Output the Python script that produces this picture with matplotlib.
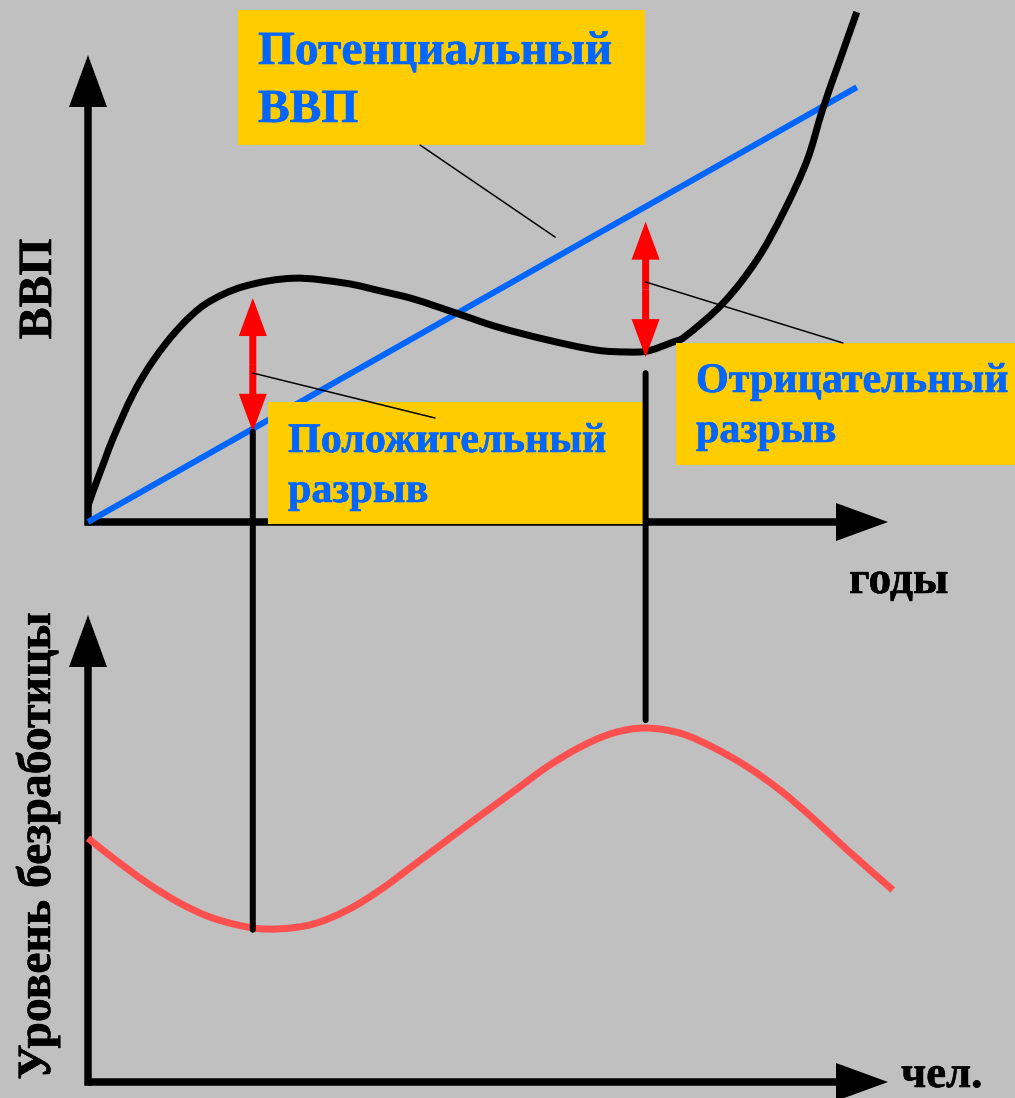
import numpy as np
import matplotlib
matplotlib.use("Agg")
import matplotlib.pyplot as plt
from matplotlib import font_manager as fm
from matplotlib import patheffects as pe
from matplotlib.patches import FancyArrowPatch, Rectangle, ConnectionPatch, ArrowStyle, PathPatch
from matplotlib.path import Path
from matplotlib.transforms import Affine2D

# ---------------------------------------------------------------- data
# actual GDP over the years (top panel)
years_actual = [0.00, 0.07, 0.21, 0.31, 0.57, 0.82, 1.15, 1.48, 1.94, 2.57,
                3.23, 3.65, 4.06, 4.59, 5.11, 5.74, 6.36, 6.74, 6.99, 7.31,
                7.44, 7.94, 8.36, 8.69, 8.99, 9.18, 9.40, 9.61]
gdp_actual = [3.5, 6.9, 13.3, 17.8, 27.6, 34.7, 41.8, 46.8, 50.4, 52.2,
              51.1, 49.5, 47.8, 44.8, 41.8, 39.0, 36.8, 36.4, 36.6, 38.5,
              39.4, 46.9, 56.1, 66.2, 77.5, 88.2, 99.0, 109.2]

# potential GDP (straight trend)
years_potential = [0.0, 9.61]
gdp_potential = [0.0, 93.1]

# unemployment rate (bottom panel)
years_unemp = [0.00, 0.31, 0.74, 1.15, 1.56, 2.06, 2.40, 2.81, 3.24, 3.65,
               4.06, 4.49, 4.90, 5.31, 5.74, 6.15, 6.56, 6.96, 7.40, 7.81,
               8.24, 8.65, 9.06, 9.49, 10.06]
unemployment = [52.2, 48.0, 42.6, 38.3, 35.1, 33.0, 32.8, 33.8, 36.8, 41.1,
                46.3, 51.8, 57.0, 62.1, 67.5, 71.7, 74.7, 75.8, 74.7, 71.7,
                67.5, 62.5, 56.5, 49.7, 41.1]

# years where the output gaps are marked: positive, negative
gap_years = [2.06, 6.97]

# labels
label_potential = "Потенциальный\nВВП"
label_positive = "Положительный\nразрыв"
label_negative = "Отрицательный\nразрыв"
label_gdp = "ВВП"
label_unemp = "Уровень безработицы"
label_years = "годы"
label_people = "чел."

# ---------------------------------------------------------------- style
BG = "#C0C0C0"
YELLOW = "#FFCC00"
BLUE = "#0066FF"
RED_ARROW = "#FF0000"
RED_LINE = "#FF5050"

FONT = fm.FontProperties(family="Liberation Serif", weight="bold")
HEAVY = 0.4  # slight extra stroke (points) on the bold face


def heavy(color):
    return [pe.withStroke(linewidth=HEAVY, foreground=color)]


W, H, DPI = 1015, 1098, 100
PT = 72.0 / DPI  # points per pixel

fig = plt.figure(figsize=(W / DPI, H / DPI), dpi=DPI, facecolor=BG)
# pixel coordinates measured from the top-left corner
px = Affine2D().scale(1.0 / W, -1.0 / H).translate(0, 1) + fig.transFigure

# panel geometry (pixels)
X0, X1 = 88, 888
TOP_BASE, TOP_TIP = 522, 55
BOT_BASE, BOT_TIP = 1082, 615
SX = (X1 - X0) / 10.0              # pixels per year
SY = (TOP_BASE - TOP_TIP) / 100.0  # pixels per value unit

ax1 = fig.add_axes([X0 / W, 1 - TOP_BASE / H, (X1 - X0) / W, (TOP_BASE - TOP_TIP) / H])
ax2 = fig.add_axes([X0 / W, 1 - BOT_BASE / H, (X1 - X0) / W, (BOT_BASE - BOT_TIP) / H])
for ax in (ax1, ax2):
    ax.set_xlim(0, 10)
    ax.set_ylim(0, 100)
    ax.axis("off")
    ax.patch.set_alpha(0)
ax1.set_zorder(1)
ax2.set_zorder(2)


def simple_arrow(ax, start, end, transform, head_len, head_w, tail_w, color, z):
    style = ArrowStyle.Simple(head_length=head_len * PT, head_width=head_w * PT,
                              tail_width=tail_w * PT)
    arr = FancyArrowPatch(start, end, arrowstyle=style, mutation_scale=1,
                          transform=transform, color=color, lw=0,
                          shrinkA=0, shrinkB=0, zorder=z, clip_on=False)
    ax.add_patch(arr)


def smooth_curve(ax, xs, ys, color, lw, z):
    """Smooth cubic Bezier curve through the points (chord-length Hermite)."""
    scale = np.array([SX, SY])
    Q = np.column_stack([xs, ys]).astype(float) * scale
    d = np.hypot(*np.diff(Q, axis=0).T)
    n = len(Q)
    m = np.zeros_like(Q)
    m[0] = (Q[1] - Q[0]) / d[0]
    m[-1] = (Q[-1] - Q[-2]) / d[-1]
    for i in range(1, n - 1):
        m[i] = (Q[i + 1] - Q[i - 1]) / (d[i - 1] + d[i])
    verts, codes = [Q[0]], [Path.MOVETO]
    for i in range(n - 1):
        verts += [Q[i] + m[i] * d[i] / 3.0, Q[i + 1] - m[i + 1] * d[i] / 3.0, Q[i + 1]]
        codes += [Path.CURVE4] * 3
    verts = np.array(verts) / scale
    patch = PathPatch(Path(verts, codes), facecolor="none", edgecolor=color,
                      lw=lw, capstyle="butt", joinstyle="round",
                      transform=ax.transData, zorder=z, clip_on=False)
    ax.add_patch(patch)


# ---------------------------------------------------------------- axes arrows
AX_W = 7.5
for ax, base, tip in ((ax1, TOP_BASE, TOP_TIP), (ax2, BOT_BASE, BOT_TIP)):
    simple_arrow(ax, (X0, base + AX_W / 2), (X0, tip), px, 52, 38, AX_W, "black", 1)
    simple_arrow(ax, (X0, base), (X1, base), px, 52, 38, AX_W, "black", 1)

# ---------------------------------------------------------------- top panel
ax1.plot(years_potential, gdp_potential, color=BLUE, lw=6 * PT,
         solid_capstyle="butt", clip_on=False, zorder=2)
smooth_curve(ax1, years_actual, gdp_actual, "black", 7 * PT, 3)


def potential_at(t):
    return np.interp(t, years_potential, gdp_potential)


def actual_at(t):
    return np.interp(t, years_actual, gdp_actual)


def unemp_at(t):
    return np.interp(t, years_unemp, unemployment)


# double-headed gap arrows (two halves from the middle outwards)
t_pos, t_neg = gap_years
pos_lo, pos_hi = potential_at(t_pos) - 3 / SY, actual_at(t_pos) - 13 / SY
neg_lo, neg_hi = actual_at(t_neg) - 6 / SY, potential_at(t_neg) - 15 / SY
for t, lo, hi in ((t_pos, pos_lo, pos_hi), (t_neg, neg_lo, neg_hi)):
    mid = (lo + hi) / 2
    simple_arrow(ax1, (t, mid), (t, hi), ax1.transData, 38, 28, 7, RED_ARROW, 4)
    simple_arrow(ax1, (t, mid), (t, lo), ax1.transData, 38, 28, 7, RED_ARROW, 4)

renderer = fig.canvas.get_renderer()


def fitted_text(ax, x, y, s, target, color, vertical=False, **kw):
    """Place text and size it so its extent equals the target length in pixels."""
    t = ax.text(x, y, s, transform=px, fontproperties=FONT, color=color,
                path_effects=heavy(color), **kw)
    t.set_fontsize(30)
    bb = t.get_window_extent(renderer)
    size = bb.height if vertical else bb.width
    t.set_fontsize(30 * (target - HEAVY / PT) / size)
    return t


# label boxes: (box x, y, w, h), text, first baseline, line step, first-line width
boxes = [
    ((238, 10, 407, 135), label_potential, (258, 64), 58, 355),
    ((268, 402, 378, 122), label_positive, (288, 452), 50, 319),
    ((676, 343, 345, 122), label_negative, (696, 392), 50, 313),
]
for (bx, by, bw, bh), text, (tx, ty), step, width in boxes:
    ax1.add_patch(Rectangle((bx, by + bh), bw, -bh, transform=px, facecolor=YELLOW,
                            edgecolor="none", zorder=5, clip_on=False))
    lines = text.split("\n")
    first = fitted_text(ax1, tx, ty, lines[0], width, BLUE, ha="left",
                        va="baseline", zorder=6)
    for i, line in enumerate(lines[1:], start=1):
        ax1.text(tx, ty + i * step, line, transform=px, fontproperties=FONT,
                 fontsize=first.get_fontsize(), color=BLUE, ha="left",
                 va="baseline", zorder=6, path_effects=heavy(BLUE))

# leader lines from the boxes to the marks
leaders = [
    ((5.84, 61.0), (420, 145)),
    ((t_pos, 31.9), (435, 418)),
    ((t_neg, 51.4), (843, 343)),
]
for target, source in leaders:
    ax1.annotate("", xy=target, xycoords=ax1.transData, xytext=source, textcoords=px,
                 arrowprops=dict(arrowstyle="-", color="black", lw=1.5 * PT,
                                 shrinkA=0, shrinkB=0),
                 zorder=7, annotation_clip=False)

# ---------------------------------------------------------------- bottom panel
smooth_curve(ax2, years_unemp, unemployment, RED_LINE, 7 * PT, 2)

# vertical guides linking the gaps with unemployment
drop_tops = [pos_lo, actual_at(t_neg) - 22 / SY]
drop_ends = [unemp_at(t_pos) - 0.4, unemp_at(t_neg) + 1.7]
for t, top, end in zip(gap_years, drop_tops, drop_ends):
    cp = ConnectionPatch(xyA=(t, top), coordsA=ax1.transData,
                         xyB=(t, end), coordsB=ax2.transData,
                         color="black", lw=6 * PT, zorder=5, clip_on=False)
    ax2.add_artist(cp)

# ---------------------------------------------------------------- axis titles
fitted_text(ax1, 51, 289, label_gdp, 101, "black", vertical=True, rotation=90,
            rotation_mode="anchor", ha="center", va="baseline")
fitted_text(ax2, 50, 846, label_unemp, 468, "black", vertical=True, rotation=90,
            rotation_mode="anchor", ha="center", va="baseline")
fitted_text(ax1, 849, 593, label_years, 100, "black", ha="left", va="baseline")
fitted_text(ax2, 901, 1087, label_people, 82, "black", ha="left", va="baseline")

fig.savefig("out.png", dpi=DPI, facecolor=BG)
